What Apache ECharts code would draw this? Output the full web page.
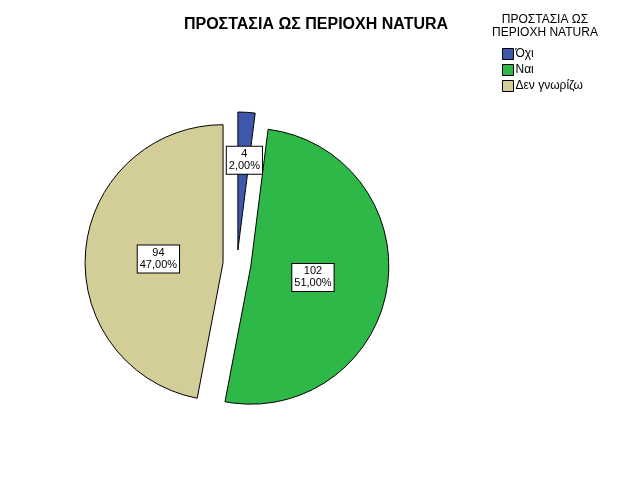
<!DOCTYPE html>
<html>
<head>
    <meta charset="utf-8">
    <title>ΠΡΟΣΤΑΣΙΑ ΩΣ ΠΕΡΙΟΧΗ NATURA</title>
    <script src="https://cdn.jsdelivr.net/npm/echarts@6/dist/echarts.min.js"></script>
    <style type="text/css">
        html, body {
            margin: 0;
            padding: 0;
            width: 100%;
            height: 100%;
            background: #fff;
        }
        #chart {
            width: 626px;
            height: 501px;
        }
    </style>
</head>
<body>
    <div id="chart"></div>
    <script type="text/javascript">
        // data
        var categories = ['Όχι', 'Ναι', 'Δεν γνωρίζω'];
        var counts = [4, 102, 94];
        var colors = ['#3e58ac', '#2eb848', '#d3ce97'];
        // label nudges so the boxes sit where the original put them
        var labelOffsets = [[2, -18], [-9, 0], [7, 3]];

        var total = counts.reduce(function (a, b) { return a + b; }, 0);

        var myChart = echarts.init(document.getElementById('chart'));

        var pieData = categories.map(function (name, i) {
            return {
                name: name,
                value: counts[i],
                selected: true,
                itemStyle: { color: colors[i] }
            };
        });

        var option = {
            animation: false,
            title: {
                text: 'ΠΡΟΣΤΑΣΙΑ ΩΣ ΠΕΡΙΟΧΗ NATURA',
                left: 311,
                top: 12,
                textAlign: 'center',
                textStyle: {
                    fontFamily: 'Liberation Sans',
                    fontSize: 16,
                    fontWeight: 'bold',
                    color: '#000'
                }
            },
            graphic: [{
                type: 'text',
                x: 545,
                y: 13,
                style: {
                    text: 'ΠΡΟΣΤΑΣΙΑ ΩΣ\nΠΕΡΙΟΧΗ NATURA',
                    align: 'center',
                    textAlign: 'center',
                    fontFamily: 'Liberation Sans',
                    fontSize: 12,
                    lineHeight: 13,
                    fill: '#000'
                }
            }],
            legend: {
                orient: 'vertical',
                left: 497,
                top: 43,
                icon: 'rect',
                itemWidth: 11,
                itemHeight: 11,
                itemGap: 4,
                selectedMode: false,
                itemStyle: { borderColor: '#000', borderWidth: 1 },
                textStyle: {
                    fontFamily: 'Liberation Sans',
                    fontSize: 12,
                    color: '#000',
                    padding: [0, 0, 0, -3]
                },
                data: categories
            },
            series: [{
                type: 'pie',
                center: [237, 264],
                radius: 138,
                startAngle: 90,
                clockwise: true,
                selectedMode: 'multiple',
                selectedOffset: 14,
                avoidLabelOverlap: false,
                itemStyle: {
                    borderColor: '#000',
                    borderWidth: 1
                },
                emphasis: { disabled: true },
                label: {
                    show: true,
                    position: 'inside',
                    formatter: function (p) {
                        var pct = (p.value / total * 100).toFixed(2).replace('.', ',');
                        return p.value + '\n' + pct + '%';
                    },
                    fontFamily: 'Liberation Sans',
                    fontSize: 11,
                    lineHeight: 12,
                    color: '#000',
                    backgroundColor: '#fff',
                    borderColor: '#000',
                    borderWidth: 1,
                    padding: [2, 2, 1, 2]
                },
                labelLayout: function (params) {
                    var off = labelOffsets[params.dataIndex];
                    return { dx: off[0], dy: off[1] };
                },
                labelLine: { show: false },
                data: pieData
            }]
        };

        myChart.setOption(option);
    </script>
</body>
</html>
